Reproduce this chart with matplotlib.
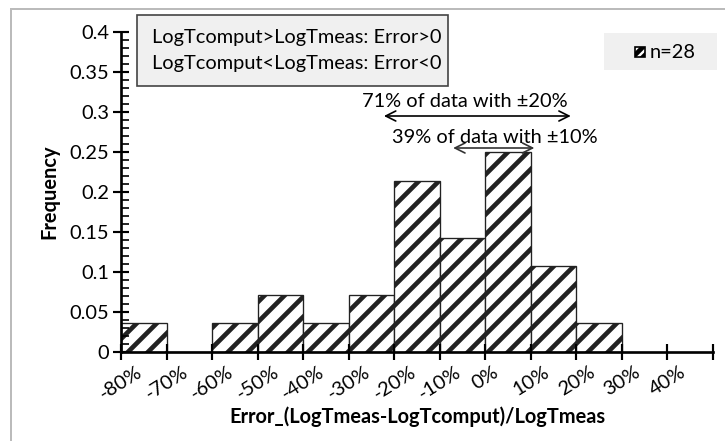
import numpy as np
import matplotlib
matplotlib.use("Agg")
import matplotlib.pyplot as plt
from matplotlib.patches import Rectangle
from matplotlib.lines import Line2D
from matplotlib.ticker import MultipleLocator

# histogram of relative error, 10% bins, n = 28
bin_left = [-80, -70, -60, -50, -40, -30, -20, -10, 0, 10, 20]
counts = [1, 0, 1, 2, 1, 2, 6, 4, 7, 3, 1]
n_total = 28
freq = [c / n_total for c in counts]

xticks = [-80, -70, -60, -50, -40, -30, -20, -10, 0, 10, 20, 30, 40, 50]
xticklabels = ["-80%", "-70%", "-60%", "-50%", "-40%", "-30%", "-20%", "-10%",
               "0%", "10%", "20%", "30%", "40%", ""]
yticks = [0, 0.05, 0.1, 0.15, 0.2, 0.25, 0.3, 0.35, 0.4]
yticklabels = ["0", "0.05", "0.1", "0.15", "0.2", "0.25", "0.3", "0.35", "0.4"]

DPI = 120
FS = 12
plt.rcParams["font.family"] = ["Lato", "DejaVu Sans"]
plt.rcParams["hatch.linewidth"] = 2.8

fig = plt.figure(figsize=(725 / DPI, 441 / DPI), dpi=DPI)
ax = fig.add_axes([121 / 725, 1 - 352 / 441, (713 - 121) / 725, (352 - 32) / 441])

ax.bar(bin_left, freq, width=10, align="edge", color="white",
       edgecolor="#222222", linewidth=0.8, hatch="//")

ax.set_xlim(-80, 50)
ax.set_ylim(0, 0.4)
for s in ("top", "right"):
    ax.spines[s].set_visible(False)
for s in ("left", "bottom"):
    ax.spines[s].set_linewidth(1.6)
    ax.spines[s].set_color("black")

ax.set_xticks(xticks)
ax.set_xticklabels(xticklabels, rotation=32, ha="center", va="top", fontsize=FS)
ax.set_yticks(yticks)
ax.set_yticklabels(yticklabels, fontsize=FS)
ax.yaxis.set_minor_locator(MultipleLocator(0.01))
ax.tick_params(axis="both", which="major", direction="inout", length=10, width=1.3, pad=2)
ax.tick_params(axis="y", which="minor", direction="in", length=5, width=1.0)
ax.tick_params(axis="x", which="minor", bottom=False)

ax.set_ylabel("Frequency", fontsize=FS, fontweight="bold", labelpad=6)
ax.set_xlabel("Error_(LogTmeas-LogTcomput)/LogTmeas", fontsize=FS,
              fontweight="bold", labelpad=2)

# ±20% and ±10% ranges
ax.annotate("", xy=(-23, 0.295), xytext=(19.5, 0.295),
            arrowprops=dict(arrowstyle="<->", color="black", lw=1.0, mutation_scale=15))
ax.text(-4.5, 0.303, "71% of data with \u00b120%", fontsize=FS, ha="center", va="bottom")
ax.annotate("", xy=(-7.8, 0.255), xytext=(11.5, 0.255),
            arrowprops=dict(arrowstyle="<->", color="#333333", lw=1.0, mutation_scale=15))
ax.text(2, 0.257, "39% of data with \u00b110%", fontsize=FS, ha="center", va="bottom")

# sign convention box
fig.patches.append(Rectangle((137 / 725, 1 - 86 / 441), (448 - 137) / 725, (86 - 15) / 441,
                             transform=fig.transFigure, facecolor="#f0f0f0",
                             edgecolor="#444444", linewidth=1.0))
fig.text(152 / 725, 1 - 37 / 441, "LogTcomput>LogTmeas: Error>0", fontsize=FS, va="center")
fig.text(152 / 725, 1 - 63 / 441, "LogTcomput<LogTmeas: Error<0", fontsize=FS, va="center")

# legend box
fig.patches.append(Rectangle((604 / 725, 1 - 70 / 441), (717 - 604) / 725, (70 - 33) / 441,
                             transform=fig.transFigure, facecolor="#f0f0f0",
                             edgecolor="none"))
fig.patches.append(Rectangle((635 / 725, 1 - 57 / 441), 10 / 725, 10 / 441,
                             transform=fig.transFigure, facecolor="white",
                             edgecolor="black", linewidth=1.0, hatch="////"))
fig.text(650 / 725, 1 - 52 / 441, "n=%d" % n_total, fontsize=FS, va="center")

# outer chart frame
fig.lines.append(Line2D([11 / 725, 11 / 725], [0, 1 - 9 / 441], transform=fig.transFigure,
                        color="#bbbbbb", linewidth=1.2))
fig.lines.append(Line2D([11 / 725, 1], [1 - 9 / 441, 1 - 9 / 441], transform=fig.transFigure,
                        color="#bbbbbb", linewidth=1.2))

fig.savefig("out.png", dpi=DPI)
